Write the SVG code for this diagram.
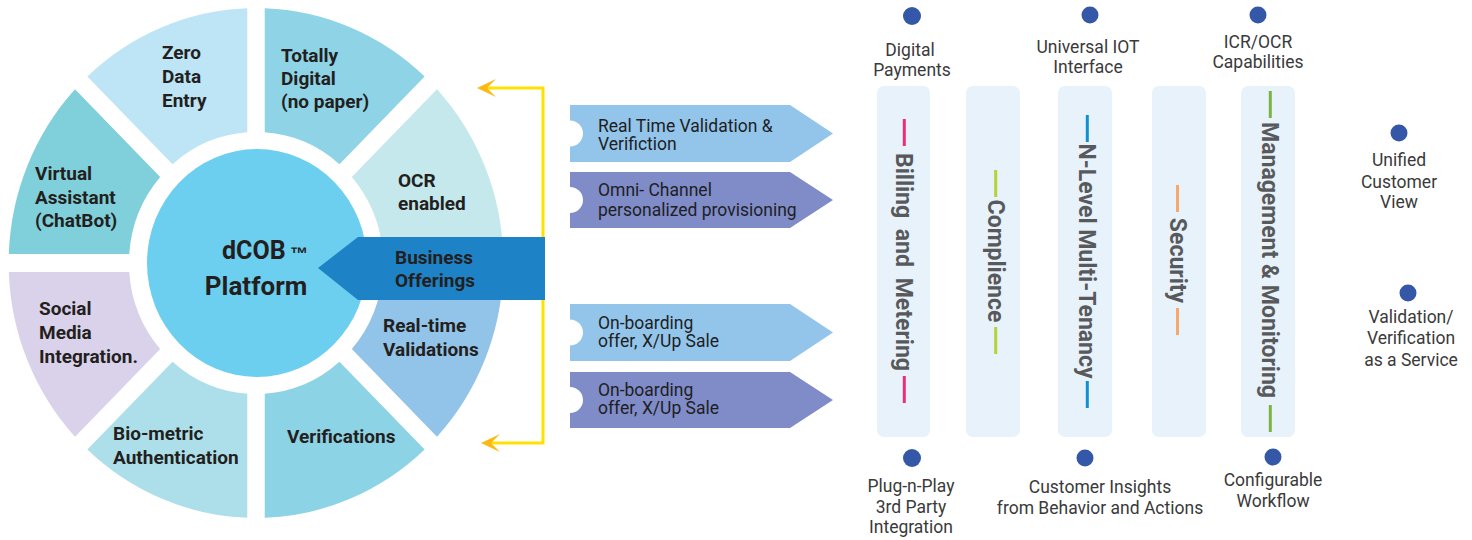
<svg xmlns="http://www.w3.org/2000/svg" width="1472" height="540" viewBox="0 0 1472 540">
<style>
.wl{font-family:Roboto,"Liberation Sans",sans-serif;font-weight:bold;font-size:19px;fill:#231F20}
.pt{font-family:Roboto,"Liberation Sans",sans-serif;font-size:17.5px;fill:#1E1E24}
.lb{font-family:Roboto,"Liberation Sans",sans-serif;font-size:17.5px;fill:#3A3A3A;text-anchor:middle}
.vt{font-family:Roboto,"Liberation Sans",sans-serif;font-weight:bold;font-size:23px;fill:#58595B;text-anchor:middle}
.bar{fill:#E7F2FB}
.dot{fill:#3557A7}
.pl{fill:#93C5EA}
.pd{fill:#7F8CC8}
.yl{fill:none;stroke:#FFE100;stroke-width:3}
</style>
<defs>
<marker id="ah" markerUnits="userSpaceOnUse" markerWidth="20" markerHeight="20" viewBox="0 0 20 18" refX="10" refY="9" orient="auto">
<path d="M0,0 L19,9 L0,18 L9,9 Z" fill="#FDB913"/>
</marker>
</defs>
<rect width="1472" height="540" fill="#FFFFFF"/>

<g id="wheel-segments" transform="translate(256,263) scale(0.97,1)">
<path id="seg-realtime" d="M254.84,9 A255,255 0 0 1 186.57,173.84 L98.78,86.05 A131,131 0 0 0 130.69,9 Z" fill="#92C3E8"/>
<path id="seg-verif" d="M173.84,186.57 A255,255 0 0 1 9,254.84 L9,130.69 A131,131 0 0 0 86.05,98.78 Z" fill="#8DD3E6"/>
<path id="seg-bio" d="M-9,254.84 A255,255 0 0 1 -173.84,186.57 L-86.05,98.78 A131,131 0 0 0 -9,130.69 Z" fill="#ACDFEA"/>
<path id="seg-social" d="M-186.57,173.84 A255,255 0 0 1 -254.84,9 L-130.69,9 A131,131 0 0 0 -98.78,86.05 Z" fill="#DAD2EA"/>
<path id="seg-virtual" d="M-254.84,-9 A255,255 0 0 1 -186.57,-173.84 L-98.78,-86.05 A131,131 0 0 0 -130.69,-9 Z" fill="#7FD0DA"/>
<path id="seg-zero" d="M-173.84,-186.57 A255,255 0 0 1 -9,-254.84 L-9,-130.69 A131,131 0 0 0 -86.05,-98.78 Z" fill="#BDE5F5"/>
<path id="seg-totally" d="M9,-254.84 A255,255 0 0 1 173.84,-186.57 L86.05,-98.78 A131,131 0 0 0 9,-130.69 Z" fill="#8ED3E6"/>
<path id="seg-ocr" d="M186.57,-173.84 A255,255 0 0 1 254.84,-9 L130.69,-9 A131,131 0 0 0 98.78,-86.05 Z" fill="#C4E8EB"/>
</g>

<g id="n-zero"><text class="wl" x="162" y="59">Zero</text><text class="wl" x="162" y="83">Data</text><text class="wl" x="162" y="107">Entry</text></g>
<g id="n-totally"><text class="wl" x="281" y="62">Totally</text><text class="wl" x="281" y="85">Digital</text><text class="wl" x="281" y="108">(no paper)</text></g>
<g id="n-ocr"><text class="wl" x="398" y="187">OCR</text><text class="wl" x="398" y="210">enabled</text></g>
<g id="n-virtual"><text class="wl" x="35" y="180">Virtual</text><text class="wl" x="35" y="204">Assistant</text><text class="wl" x="35" y="227">(ChatBot)</text></g>
<g id="n-social"><text class="wl" x="39" y="315">Social</text><text class="wl" x="39" y="339">Media</text><text class="wl" x="39" y="363">Integration.</text></g>
<g id="n-bio"><text class="wl" x="113" y="440">Bio-metric</text><text class="wl" x="113" y="464">Authentication</text></g>
<g id="n-realtime"><text class="wl" x="383" y="332">Real-time</text><text class="wl" x="383" y="356">Validations</text></g>
<g id="n-verif"><text class="wl" x="287" y="443">Verifications</text></g>

<g id="n-platform">
<ellipse cx="257" cy="263" rx="110" ry="114" fill="#6DCFF0"/>
<text x="222" y="259" style="font-family:Roboto,'Liberation Sans',sans-serif;font-weight:bold;font-size:25px;fill:#231F20">dCOB</text>
<text x="290" y="260" style="font-family:'Liberation Sans',sans-serif;font-weight:bold;font-size:18px;fill:#231F20">™</text>
<text x="256" y="295" text-anchor="middle" style="font-family:Roboto,'Liberation Sans',sans-serif;font-weight:bold;font-size:26px;fill:#231F20">Platform</text>
</g>

<g id="connectors">
<path class="yl" d="M543,240 V88 H486" marker-end="url(#ah)"/>
<path class="yl" d="M543,298 V443 H490" marker-end="url(#ah)"/>
</g>

<g id="n-business">
<path d="M358,237 H545 V300 H358 L318,268 Z" fill="#1E82C6"/>
<text class="wl" x="395" y="264">Business</text>
<text class="wl" x="395" y="287">Offerings</text>
</g>

<g id="n-tag1">
<path class="pl" d="M570,105 H790 L833,133.5 L790,162 H570 V146.5 A13,13 0 0 0 570,120.5 Z"/>
<text class="pt" x="598" y="132">Real Time Validation &amp;</text>
<text class="pt" x="598" y="150">Verifiction</text>
</g>
<g id="n-tag2">
<path class="pd" d="M570,172 H790 L833,200 L790,228 H570 V213 A13,13 0 0 0 570,187 Z"/>
<text class="pt" x="598" y="196">Omni- Channel</text>
<text class="pt" x="598" y="216">personalized provisioning</text>
</g>
<g id="n-tag3">
<path class="pl" d="M570,304 H790 L833,332.5 L790,361 H570 V345.5 A13,13 0 0 0 570,319.5 Z"/>
<text class="pt" x="598" y="329">On-boarding</text>
<text class="pt" x="598" y="347">offer, X/Up Sale</text>
</g>
<g id="n-tag4">
<path class="pd" d="M570,372 H790 L833,400 L790,428 H570 V413 A13,13 0 0 0 570,387 Z"/>
<text class="pt" x="598" y="396">On-boarding</text>
<text class="pt" x="598" y="414">offer, X/Up Sale</text>
</g>

<g id="n-billing">
<rect class="bar" x="877" y="86" width="53" height="351" rx="7"/>
<rect x="902.8" y="119" width="3" height="27" fill="#E8307A"/>
<rect x="902.8" y="376" width="3" height="27" fill="#E8307A"/>
<text class="vt" transform="translate(896,262) rotate(90)" style="word-spacing:5px">Billing and Metering</text>
</g>
<g id="n-complience">
<rect class="bar" x="966" y="86" width="54" height="351" rx="7"/>
<rect x="994.2" y="170" width="3" height="27" fill="#B5D334"/>
<rect x="994.2" y="327" width="3" height="27" fill="#B5D334"/>
<text class="vt" transform="translate(987.5,261) rotate(90)">Complience</text>
</g>
<g id="n-tenancy">
<rect class="bar" x="1058" y="86" width="54" height="351" rx="7"/>
<rect x="1085.8" y="115" width="3" height="27" fill="#0E90D2"/>
<rect x="1085.8" y="381" width="3" height="27" fill="#0E90D2"/>
<text class="vt" transform="translate(1079,261) rotate(90)">N-Level Multi-Tenancy</text>
</g>
<g id="n-security">
<rect class="bar" x="1152" y="86" width="54" height="351" rx="7"/>
<rect x="1176" y="185" width="3" height="27" fill="#F9A86B"/>
<rect x="1176" y="308" width="3" height="27" fill="#F9A86B"/>
<text class="vt" transform="translate(1169.5,260.5) rotate(90)">Security</text>
</g>
<g id="n-management">
<rect class="bar" x="1241" y="86" width="54" height="351" rx="7"/>
<rect x="1268.8" y="91" width="3" height="27" fill="#7CB342"/>
<rect x="1268.8" y="405" width="3" height="27" fill="#7CB342"/>
<text class="vt" transform="translate(1262,260) rotate(90)">Management &amp; Monitoring</text>
</g>

<g id="n-digital-payments"><circle class="dot" cx="912" cy="16" r="9"/><text class="lb" x="910" y="56">Digital</text><text class="lb" x="912" y="76">Payments</text></g>
<g id="n-iot"><circle class="dot" cx="1090" cy="15" r="8.5"/><text class="lb" x="1088" y="53">Universal IOT</text><text class="lb" x="1088" y="73">Interface</text></g>
<g id="n-icr"><circle class="dot" cx="1258" cy="15" r="8.5"/><text class="lb" x="1258" y="48">ICR/OCR</text><text class="lb" x="1258" y="68">Capabilities</text></g>
<g id="n-unified"><circle class="dot" cx="1399" cy="133" r="8.5"/><text class="lb" x="1399" y="166">Unified</text><text class="lb" x="1399" y="188">Customer</text><text class="lb" x="1399" y="208">View</text></g>
<g id="n-vaas"><circle class="dot" cx="1408" cy="293" r="8.5"/><text class="lb" x="1411" y="323">Validation/</text><text class="lb" x="1411" y="344">Verification</text><text class="lb" x="1411" y="366">as a Service</text></g>
<g id="n-plug"><circle class="dot" cx="912" cy="458" r="9"/><text class="lb" x="911" y="492">Plug-n-Play</text><text class="lb" x="911" y="513">3rd Party</text><text class="lb" x="911" y="533">Integration</text></g>
<g id="n-insights"><circle class="dot" cx="1085" cy="458" r="8.5"/><text class="lb" x="1100" y="493">Customer Insights</text><text class="lb" x="1100" y="514">from Behavior and Actions</text></g>
<g id="n-workflow"><circle class="dot" cx="1273" cy="457" r="8.5"/><text class="lb" x="1273" y="486">Configurable</text><text class="lb" x="1273" y="507">Workflow</text></g>
</svg>
